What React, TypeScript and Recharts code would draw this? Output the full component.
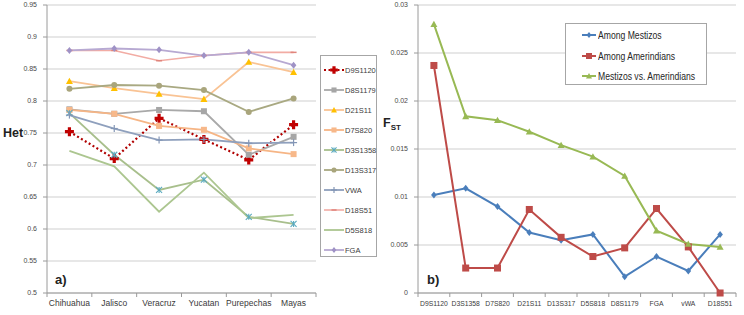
import React from 'react';
import { LineChart, Line, XAxis, YAxis, CartesianGrid, Legend } from 'recharts';

// panel a) heterozygosity by population
const populations = ['Chihuahua', 'Jalisco', 'Veracruz', 'Yucatan', 'Purepechas', 'Mayas'];
const d9s1120 = [0.752, 0.71, 0.773, 0.74, 0.708, 0.763];
const d8s1179 = [0.787, 0.78, 0.786, 0.784, 0.716, 0.744];
const d21s11 = [0.831, 0.82, 0.811, 0.803, 0.861, 0.845];
const d7s820 = [0.786, 0.78, 0.761, 0.755, 0.726, 0.717];
const d3s1358 = [0.781, 0.716, 0.661, 0.677, 0.619, 0.608];
const d13s317 = [0.819, 0.825, 0.824, 0.817, 0.783, 0.804];
const vwa = [0.778, 0.757, 0.739, 0.74, 0.734, 0.735];
const d18s51 = [0.879, 0.879, 0.863, 0.871, 0.876, 0.876];
const d5s818 = [0.722, 0.698, 0.627, 0.688, 0.617, 0.622];
const fga = [0.879, 0.882, 0.88, 0.871, 0.876, 0.856];
const hetTicks = [0.5, 0.55, 0.6, 0.65, 0.7, 0.75, 0.8, 0.85, 0.9, 0.95];

// panel b) FST by locus
const loci = ['D9S1120', 'D3S1358', 'D7S820', 'D21S11', 'D13S317', 'D5S818', 'D8S1179', 'FGA', 'vWA', 'D18S51'];
const amongMestizos = [0.0102, 0.0109, 0.009, 0.0063, 0.0055, 0.0061, 0.0017, 0.0038, 0.0023, 0.0061];
const amongAmerindians = [0.0237, 0.0026, 0.0026, 0.0087, 0.0058, 0.0038, 0.0047, 0.0088, 0.0048, 0];
const mestizosVsAmerindians = [0.028, 0.0184, 0.018, 0.0168, 0.0154, 0.0142, 0.0122, 0.0065, 0.0051, 0.0048];
const fstTicks = [0, 0.005, 0.01, 0.015, 0.02, 0.025, 0.03];

type Shape = 'cross' | 'square' | 'triangle' | 'asterisk' | 'circle' | 'plus' | 'dash' | 'diamond' | 'none';

interface SeriesStyle {
  key: string;
  values: number[];
  color: string;
  mark: string;
  shape: Shape;
  size: number;
  width: number;
  dash?: string;
}

const hetSeries: SeriesStyle[] = [
  { key: 'D9S1120', values: d9s1120, color: '#b00000', mark: '#c00000', shape: 'cross', size: 9, width: 2.2, dash: '2 2.5' },
  { key: 'D8S1179', values: d8s1179, color: '#a9a9a9', mark: '#a6a6a6', shape: 'square', size: 6, width: 1.8 },
  { key: 'D21S11', values: d21s11, color: '#f9c394', mark: '#ffc000', shape: 'triangle', size: 7, width: 1.8 },
  { key: 'D7S820', values: d7s820, color: '#f6b585', mark: '#f7b88a', shape: 'square', size: 6, width: 1.8 },
  { key: 'D3S1358', values: d3s1358, color: '#a8bf8c', mark: '#5aaabf', shape: 'asterisk', size: 6, width: 1.8 },
  { key: 'D13S317', values: d13s317, color: '#a9a982', mark: '#a9a57c', shape: 'circle', size: 6, width: 1.8 },
  { key: 'VWA', values: vwa, color: '#8fa0bd', mark: '#8396b6', shape: 'plus', size: 7, width: 1.8 },
  { key: 'D18S51', values: d18s51, color: '#f2aca4', mark: '#e0857c', shape: 'dash', size: 6, width: 1.6 },
  { key: 'D5S818', values: d5s818, color: '#acc690', mark: '#acc690', shape: 'none', size: 0, width: 1.8 },
  { key: 'FGA', values: fga, color: '#b7a9d2', mark: '#9f92c6', shape: 'diamond', size: 7, width: 1.8 },
];

const fstSeries: SeriesStyle[] = [
  { key: 'Among Mestizos', values: amongMestizos, color: '#4a7ebb', mark: '#4a7ebb', shape: 'diamond', size: 7, width: 2 },
  { key: 'Among Amerindians', values: amongAmerindians, color: '#be4b48', mark: '#be4b48', shape: 'square', size: 7, width: 2 },
  { key: 'Mestizos vs. Amerindians', values: mestizosVsAmerindians, color: '#98b954', mark: '#98b954', shape: 'triangle', size: 7, width: 2 },
];

const hetData = populations.map((population, i) => {
  const row: Record<string, string | number> = { population };
  hetSeries.forEach((s) => { row[s.key] = s.values[i]; });
  return row;
});

const fstData = loci.map((locus, i) => {
  const row: Record<string, string | number> = { locus };
  fstSeries.forEach((s) => { row[s.key] = s.values[i]; });
  return row;
});

const FONT = '"Liberation Sans", Arial, sans-serif';
const AXIS = '#9a9a9a';
const GRID = '#cfcfcf';

const Marker = ({ cx, cy, shape, color, size }: { cx: number; cy: number; shape: Shape; color: string; size: number }) => {
  const h = size / 2;
  switch (shape) {
    case 'cross': {
      const t = 1.6;
      return (
        <path
          d={`M${cx - t},${cy - h} L${cx + t},${cy - h} L${cx + t},${cy - t} L${cx + h},${cy - t} L${cx + h},${cy + t} L${cx + t},${cy + t} L${cx + t},${cy + h} L${cx - t},${cy + h} L${cx - t},${cy + t} L${cx - h},${cy + t} L${cx - h},${cy - t} L${cx - t},${cy - t} Z`}
          fill={color}
        />
      );
    }
    case 'square':
      return <rect x={cx - h} y={cy - h} width={size} height={size} fill={color} />;
    case 'triangle':
      return <path d={`M${cx},${cy - h} L${cx + h},${cy + h * 0.8} L${cx - h},${cy + h * 0.8} Z`} fill={color} />;
    case 'diamond':
      return <path d={`M${cx},${cy - h} L${cx + h * 0.8},${cy} L${cx},${cy + h} L${cx - h * 0.8},${cy} Z`} fill={color} />;
    case 'circle':
      return <circle cx={cx} cy={cy} r={h} fill={color} />;
    case 'plus':
      return (
        <g stroke={color} strokeWidth={1.2}>
          <line x1={cx - h} x2={cx + h} y1={cy} y2={cy} />
          <line x1={cx} x2={cx} y1={cy - h} y2={cy + h} />
        </g>
      );
    case 'asterisk':
      return (
        <g stroke={color} strokeWidth={1.1}>
          <line x1={cx - h} x2={cx + h} y1={cy - h} y2={cy + h} />
          <line x1={cx - h} x2={cx + h} y1={cy + h} y2={cy - h} />
          <line x1={cx} x2={cx} y1={cy - h} y2={cy + h} />
        </g>
      );
    case 'dash':
      return <line x1={cx - h} x2={cx + h} y1={cy} y2={cy} stroke={color} strokeWidth={1.5} />;
    default:
      return <g />;
  }
};

const dotFor = (s: SeriesStyle) => (p: any) => (
  <Marker key={`${s.key}-${p.index}`} cx={p.cx} cy={p.cy} shape={s.shape} color={s.mark} size={s.size} />
);

// Excel-like category ticks: marks between categories, labels centred
const makeTick = (band: number, count: number, fontSize: number) => (props: any) => {
  const { x, y, payload, index } = props;
  return (
    <g>
      <line x1={x - band / 2} x2={x - band / 2} y1={y - 2} y2={y + 2} stroke={AXIS} />
      {index === count - 1 && <line x1={x + band / 2} x2={x + band / 2} y1={y - 2} y2={y + 2} stroke={AXIS} />}
      <text x={x} y={y + 11} textAnchor="middle" fontSize={fontSize} fill="#3a3a3a" fontFamily={FONT}>
        {payload.value}
      </text>
    </g>
  );
};

const HetLegend = () => (
  <div style={{ border: '1px solid #a6a6a6', background: '#fff', width: 57, height: 202, boxSizing: 'border-box', paddingTop: 4 }}>
    {hetSeries.map((s) => (
      <div key={s.key} style={{ display: 'flex', alignItems: 'center', height: 20, whiteSpace: 'nowrap' }}>
        <svg width={22} height={10} style={{ marginLeft: 2, flex: 'none' }}>
          <line x1={1} x2={21} y1={5} y2={5} stroke={s.color} strokeWidth={s.width} strokeDasharray={s.dash} />
          <Marker cx={11} cy={5} shape={s.shape} color={s.mark} size={s.size * 0.85} />
        </svg>
        <span style={{ fontSize: 7.5, color: '#404040', fontFamily: FONT }}>{s.key}</span>
      </div>
    ))}
  </div>
);

const FstLegend = () => (
  <div style={{ border: '1px solid #a6a6a6', background: '#fff', width: 142, height: 62, boxSizing: 'border-box', paddingTop: 1 }}>
    {fstSeries.map((s) => (
      <div key={s.key} style={{ display: 'flex', alignItems: 'center', height: 20.5, whiteSpace: 'nowrap' }}>
        <svg width={16} height={10} style={{ marginLeft: 15, flex: 'none' }}>
          <line x1={1} x2={15} y1={5} y2={5} stroke={s.color} strokeWidth={s.width} />
          <Marker cx={8} cy={5} shape={s.shape} color={s.mark} size={6} />
        </svg>
        <span
          style={{
            display: 'inline-block',
            fontSize: 10.5,
            color: '#262626',
            fontFamily: FONT,
            marginLeft: 1,
            transform: 'scaleX(0.82)',
            transformOrigin: 'left center',
          }}
        >
          {s.key}
        </span>
      </div>
    ))}
  </div>
);

const HetChart = () => (
  <LineChart width={380} height={315} data={hetData} margin={{ top: 5, right: 64, left: 0, bottom: 0 }} style={{ fontFamily: FONT }}>
    <CartesianGrid horizontal vertical={false} stroke={GRID} />
    <XAxis
      dataKey="population"
      scale="band"
      height={22}
      stroke={AXIS}
      tickLine={false}
      tickSize={0}
      tick={makeTick(269 / 6, populations.length, 8.5)}
      interval={0}
      label={{
        content: () => (
          <text x={55} y={284} fontSize={13} fontWeight="bold" fill="#222" fontFamily={FONT}>a)</text>
        ),
      }}
    />
    <YAxis
      width={47}
      domain={[0.5, 0.95]}
      ticks={hetTicks}
      interval={0}
      stroke={AXIS}
      tickSize={4}
      tickMargin={6}
      tick={{ fontSize: 7, fill: '#4a4a4a' }}
      label={{
        content: () => (
          <text x={3} y={137} fontSize={12.5} fontWeight="bold" fill="#222" fontFamily={FONT}>Het</text>
        ),
      }}
    />
    <Legend
      layout="horizontal"
      verticalAlign="middle"
      content={() => <HetLegend />}
      wrapperStyle={{ left: 320, top: 55, width: 57, height: 202 }}
    />
    {hetSeries.map((s) => (
      <Line
        key={s.key}
        dataKey={s.key}
        stroke={s.color}
        strokeWidth={s.width}
        strokeDasharray={s.dash}
        dot={dotFor(s)}
        activeDot={false}
        isAnimationActive={false}
      />
    ))}
  </LineChart>
);

const FstChart = () => (
  <LineChart width={364} height={315} data={fstData} margin={{ top: 5, right: 8, left: 0, bottom: 0 }} style={{ fontFamily: FONT }}>
    <CartesianGrid horizontal vertical={false} stroke={GRID} />
    <XAxis
      dataKey="locus"
      scale="band"
      height={22}
      stroke={AXIS}
      tickLine={false}
      tickSize={0}
      tick={makeTick(318 / 10, loci.length, 6.8)}
      interval={0}
      label={{
        content: () => (
          <text x={47} y={284} fontSize={13} fontWeight="bold" fill="#222" fontFamily={FONT}>b)</text>
        ),
      }}
    />
    <YAxis
      width={38}
      domain={[0, 0.03]}
      ticks={fstTicks}
      interval={0}
      stroke={AXIS}
      tickSize={4}
      tickMargin={6}
      tick={{ fontSize: 7, fill: '#4a4a4a' }}
      label={{
        content: () => (
          <text x={3} y={127} fontSize={12.5} fontWeight="bold" fill="#222" fontFamily={FONT}>
            F<tspan fontSize={8} dy={3}>ST</tspan>
          </text>
        ),
      }}
    />
    <Legend
      layout="horizontal"
      verticalAlign="middle"
      content={() => <FstLegend />}
      wrapperStyle={{ left: 185, top: 23, width: 142, height: 62 }}
    />
    {fstSeries.map((s) => (
      <Line
        key={s.key}
        dataKey={s.key}
        stroke={s.color}
        strokeWidth={s.width}
        dot={dotFor(s)}
        activeDot={false}
        isAnimationActive={false}
      />
    ))}
  </LineChart>
);

export default function App() {
  return (
    <div style={{ position: 'absolute', left: 0, top: 0, width: 744, height: 315, background: '#fff', overflow: 'hidden' }}>
      <div style={{ position: 'absolute', left: 0, top: 0 }}>
        <HetChart />
      </div>
      <div style={{ position: 'absolute', left: 380, top: 0 }}>
        <FstChart />
      </div>
    </div>
  );
}
